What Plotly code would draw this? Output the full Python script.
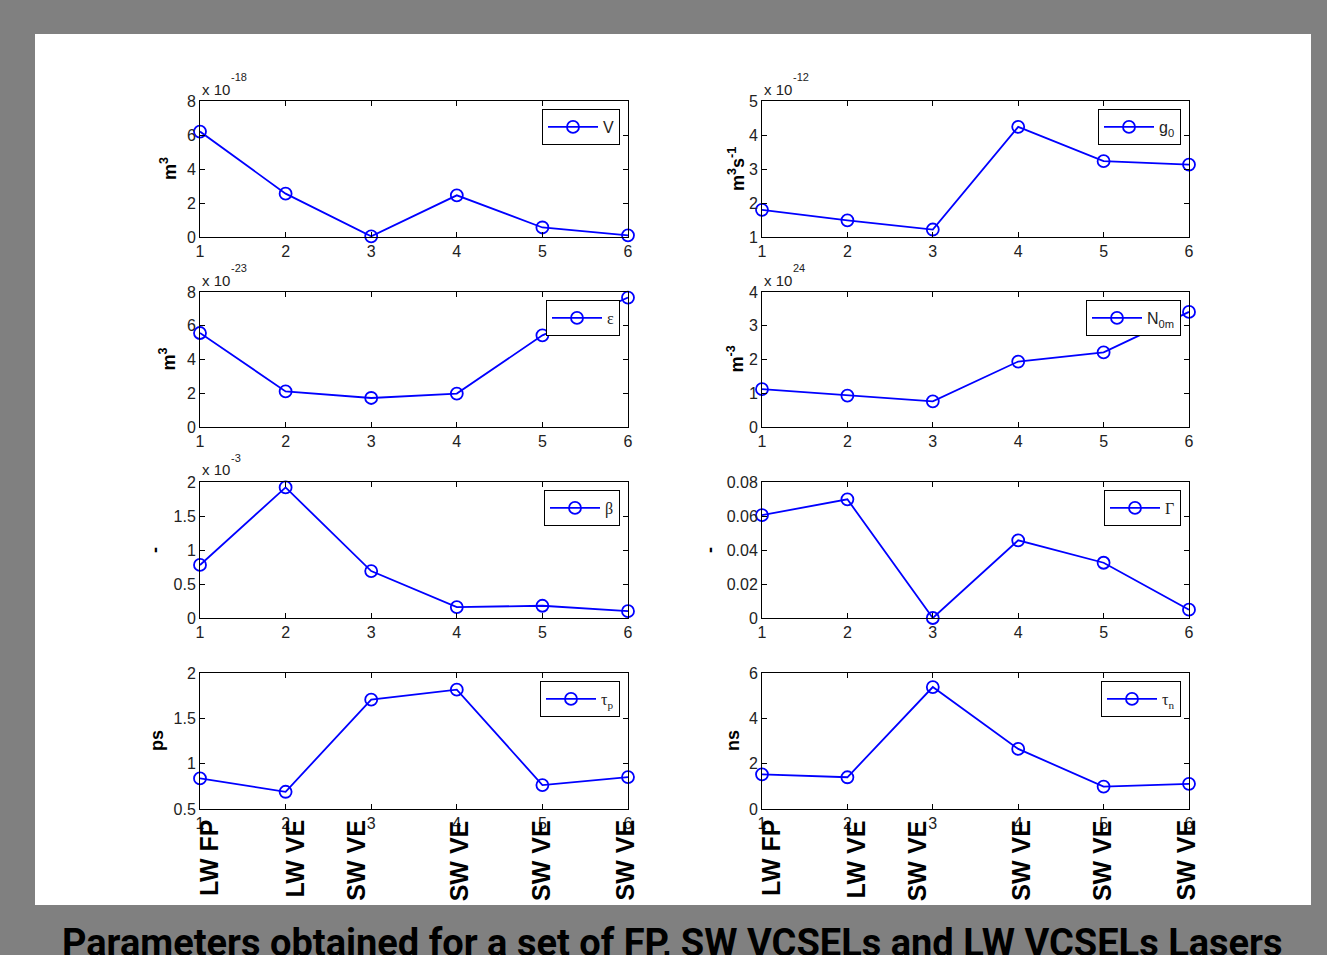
import plotly.graph_objects as go

W, H = 1327, 955

# ---- data -------------------------------------------------------------
sample_index = [1, 2, 3, 4, 5, 6]
device_labels = ["LW FP", "LW VE", "SW VE", "SW VE", "SW VE", "SW VE"]

volume = [6.2, 2.55, 0.04, 2.45, 0.56, 0.1]          # x 1e-18 m^3
gain = [1.8, 1.49, 1.22, 4.24, 3.23, 3.13]            # x 1e-12 m^3 s^-1
epsilon = [5.57, 2.11, 1.72, 1.98, 5.43, 7.67]        # x 1e-23 m^3
n0m = [1.12, 0.93, 0.76, 1.94, 2.21, 3.41]            # x 1e24 m^-3
beta = [0.78, 1.92, 0.69, 0.16, 0.18, 0.10]           # x 1e-3
confinement = [0.0605, 0.0698, 0.0, 0.0457, 0.0325, 0.0049]
tau_p = [0.837, 0.69, 1.706, 1.816, 0.764, 0.852]     # ps
tau_n = [1.53, 1.40, 5.38, 2.65, 0.99, 1.11]          # ns

series = [volume, gain, epsilon, n0m, beta, confinement, tau_p, tau_n]
legend_names = ["V", "g<sub>0</sub>", "ε", "N<sub>0m</sub>", "β", "Γ",
                "τ<sub>p</sub>", "τ<sub>n</sub>"]
y_units = ["m<sup>3</sup>", "m<sup>3</sup>s<sup>-1</sup>", "m<sup>3</sup>",
           "m<sup>-3</sup>", "-", "-", "ps", "ns"]
exponents = ["-18", "-12", "-23", "24", "-3", None, None, None]
y_ranges = [(0, 8), (1, 5), (0, 8), (0, 4), (0, 2), (0, 0.08), (0.5, 2), (0, 6)]
y_ticks = [[0, 2, 4, 6, 8], [1, 2, 3, 4, 5], [0, 2, 4, 6, 8], [0, 1, 2, 3, 4],
           [0, 0.5, 1, 1.5, 2], [0, 0.02, 0.04, 0.06, 0.08],
           [0.5, 1, 1.5, 2], [0, 2, 4, 6]]
y_ticktext = [None, None, None, None, ["0", "0.5", "1", "1.5", "2"],
              ["0", "0.02", "0.04", "0.06", "0.08"], ["0.5", "1", "1.5", "2"], None]
serif_legend = [False, False, True, False, True, True, True, True]

# ---- layout geometry (pixels on the page) -----------------------------
col_px = [(200, 628), (762, 1189)]
row_px = [(101, 237), (292, 427), (482, 618), (673, 809)]
legend_px = [(620, 109), (1181, 109), (620, 300), (1181, 300),
             (620, 490), (1181, 490), (620, 681), (1181, 681)]
ytitle_x_px = [168, 736, 168, 736, 155, 710, 157, 733]
label_shift = [9, 9, -16, 2, -2, -4]

BLUE = "#0000ff"
FONT = "Liberation Sans, Arial, Helvetica, sans-serif"
SERIF = "Liberation Serif, Times New Roman, serif"


def px_x(p):
    return p / W


def px_y(p):
    return 1 - p / H


fig = go.Figure()
layout = dict(
    width=W, height=H, autosize=False,
    margin=dict(l=0, r=0, t=0, b=0, pad=0, autoexpand=False),
    paper_bgcolor="#808080",
    plot_bgcolor="white",
    showlegend=True,
    font=dict(family=FONT, size=16, color="#222222"),
)
annotations = []

for k in range(8):
    r, c = divmod(k, 2)
    n = k + 1
    xa = "xaxis" if n == 1 else f"xaxis{n}"
    ya = "yaxis" if n == 1 else f"yaxis{n}"
    xref = "x" if n == 1 else f"x{n}"
    yref = "y" if n == 1 else f"y{n}"
    lg = "legend" if n == 1 else f"legend{n}"

    fig.add_trace(go.Scatter(
        x=sample_index, y=series[k], mode="lines+markers",
        name=legend_names[k], xaxis=xref, yaxis=yref, legend=lg,
        line=dict(color=BLUE, width=1.8),
        marker=dict(symbol="circle-open", size=12, color=BLUE,
                    line=dict(width=1.8, color=BLUE)),
        cliponaxis=False,
    ))

    axis_common = dict(
        showline=True, linecolor="black", linewidth=1, mirror="ticks",
        ticks="inside", ticklen=5, tickcolor="black", showgrid=False,
        zeroline=False, automargin=False,
        tickfont=dict(family=FONT, size=16, color="#222222"),
    )
    layout[xa] = dict(
        axis_common, domain=[px_x(col_px[c][0]), px_x(col_px[c][1])],
        range=[1, 6], tickvals=sample_index, anchor=yref,
    )
    ydict = dict(
        axis_common, domain=[px_y(row_px[r][1]), px_y(row_px[r][0])],
        range=list(y_ranges[k]), tickvals=y_ticks[k], anchor=xref,
    )
    if y_ticktext[k] is not None:
        ydict["ticktext"] = y_ticktext[k]
    layout[ya] = ydict

    lx, ly = legend_px[k]
    layout[lg] = dict(
        x=px_x(lx), y=px_y(ly), xanchor="right", yanchor="top",
        xref="paper", yref="paper",
        bgcolor="white", bordercolor="black", borderwidth=1,
        itemwidth=50, tracegroupgap=0,
        font=dict(family=SERIF if serif_legend[k] else FONT, size=16,
                  color="#222222"),
    )

    # y-axis unit label
    annotations.append(dict(
        text=f"<b>{y_units[k]}</b>", textangle=-90,
        xref="paper", yref="paper",
        x=px_x(ytitle_x_px[k]), y=px_y((row_px[r][0] + row_px[r][1]) / 2),
        xanchor="center", yanchor="middle", showarrow=False,
        font=dict(family=FONT, size=18, color="black"),
    ))

    # power-of-ten multiplier above the axis: "x 10" with a raised exponent
    if exponents[k] is not None:
        top = row_px[r][0]
        annotations.append(dict(
            text="x 10", xref="paper", yref="paper",
            x=px_x(col_px[c][0]), y=px_y(top - 12),
            xanchor="left", yanchor="middle", showarrow=False,
            font=dict(family=FONT, size=15, color="#222222"),
        ))
        annotations.append(dict(
            text=exponents[k], xref="paper", yref="paper",
            x=px_x(col_px[c][0] + 29), y=px_y(top - 24),
            xanchor="left", yanchor="middle", showarrow=False,
            font=dict(family=FONT, size=11, color="#222222"),
        ))

# device names under the bottom row
for xr in ("x7", "x8"):
    for i, name in enumerate(device_labels):
        annotations.append(dict(
            text=f"<b>{name}</b>", textangle=-90,
            xref=xr, yref="paper", x=sample_index[i], y=px_y(818),
            xshift=label_shift[i], xanchor="center", yanchor="top",
            showarrow=False,
            font=dict(family=FONT, size=25, color="black"),
        ))

# caption below the figure panel
annotations.append(dict(
    text="<b>Parameters obtained for a set of FP, SW VCSELs and LW VCSELs Lasers</b>",
    xref="paper", yref="paper", x=px_x(672), y=px_y(919),
    xanchor="center", yanchor="top", showarrow=False,
    font=dict(family="Roboto, sans-serif", size=38, color="black"),
))

layout["annotations"] = annotations
layout["shapes"] = [dict(
    type="rect", xref="paper", yref="paper",
    x0=px_x(35), x1=px_x(1311), y0=px_y(905), y1=px_y(34),
    fillcolor="white", line=dict(width=0), layer="below",
)]

fig.update_layout(**layout)
fig.write_html("out.html")
